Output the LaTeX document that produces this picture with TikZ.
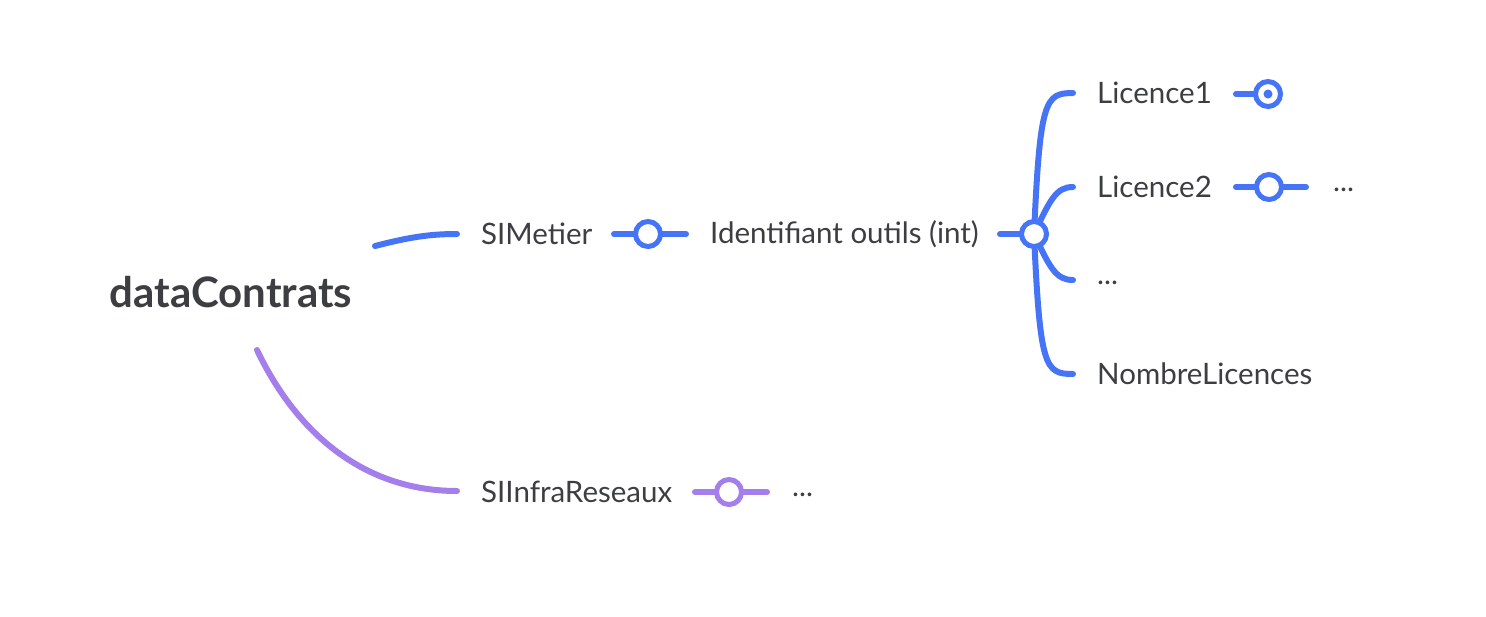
\documentclass[tikz,border=0pt]{standalone}
\usepackage{fontspec}
\setmainfont{Lato}
\definecolor{bl}{RGB}{70,116,246}
\definecolor{pu}{RGB}{164,126,234}
\definecolor{tx}{RGB}{60,62,66}
\begin{document}
\begin{tikzpicture}[x=1pt,y=-1pt,
  lbl/.style={anchor=west,inner sep=0pt,text=tx,font=\fontsize{29.5}{31}\selectfont},
  br/.style={line width=6pt,line cap=round},
  hub/.style={circle,draw,line width=5pt,fill=white,minimum size=25pt,inner sep=0pt}]
\useasboundingbox (0,0) rectangle (1486,616);
\node[inner sep=0pt,text=tx,font=\fontsize{42}{44}\selectfont\bfseries] (root) at (231,292) {dataContrats};
% SIMetier branch
\node[lbl] (sim) at (481,234) {SIMetier};
\coordinate (r1) at (375,246);
\coordinate (s1) at (457,234);
\draw[br,bl] (r1) .. controls (410,237) and (430,234) .. (s1);
\coordinate (a1) at (614,234);
\coordinate (a2) at (686,234);
\draw[br,bl] (a1) -- (a2);
\node[hub,draw=bl] (h1) at (648,234) {};
\node[lbl] (id) at (710,234) {Identifiant outils (int)};
\coordinate (b1) at (1000,234);
\coordinate (hc) at (1034,234);
\coordinate (t1) at (1073,93);
\coordinate (t2) at (1073,187);
\coordinate (t3) at (1073,280);
\coordinate (t4) at (1073,374);
\draw[br,bl] (b1) -- (hc);
\draw[br,bl] (hc) .. controls (1040,100) and (1045,93) .. (t1);
\draw[br,bl] (hc) .. controls (1050,200) and (1056,187) .. (t2);
\draw[br,bl] (hc) .. controls (1050,268) and (1056,280) .. (t3);
\draw[br,bl] (hc) .. controls (1040,368) and (1045,374) .. (t4);
\node[hub,draw=bl] (h2) at (hc) {};
\node[lbl] (l1) at (1097,93) {Licence1};
\node[lbl] (l2) at (1097,187) {Licence2};
\node[lbl] (l3) at (1097,283) {...};
\node[lbl] (l4) at (1097,374) {NombreLicences};
\coordinate (c1) at (1236,94);
\draw[br,bl] (c1) -- (1258,94);
\node[hub,draw=bl] (h3) at (1268,94) {};
\fill[bl] (h3.center) circle (4.5);
\coordinate (c2) at (1236,187);
\coordinate (c3) at (1306,187);
\draw[br,bl] (c2) -- (c3);
\node[hub,draw=bl] (h4) at (1269,187) {};
\node[lbl] (d2) at (1333,190) {...};
% SIInfraReseaux branch
\node[lbl] (sir) at (481,492) {SIInfraReseaux};
\coordinate (r2) at (257,350);
\coordinate (s2) at (457,491);
\draw[br,pu] (r2) .. controls (300,440) and (370,491) .. (s2);
\coordinate (p1) at (695,492);
\coordinate (p2) at (767,492);
\draw[br,pu] (p1) -- (p2);
\node[hub,draw=pu] (h5) at (729,492) {};
\node[lbl] (d3) at (792,495) {...};
\end{tikzpicture}
\end{document}
